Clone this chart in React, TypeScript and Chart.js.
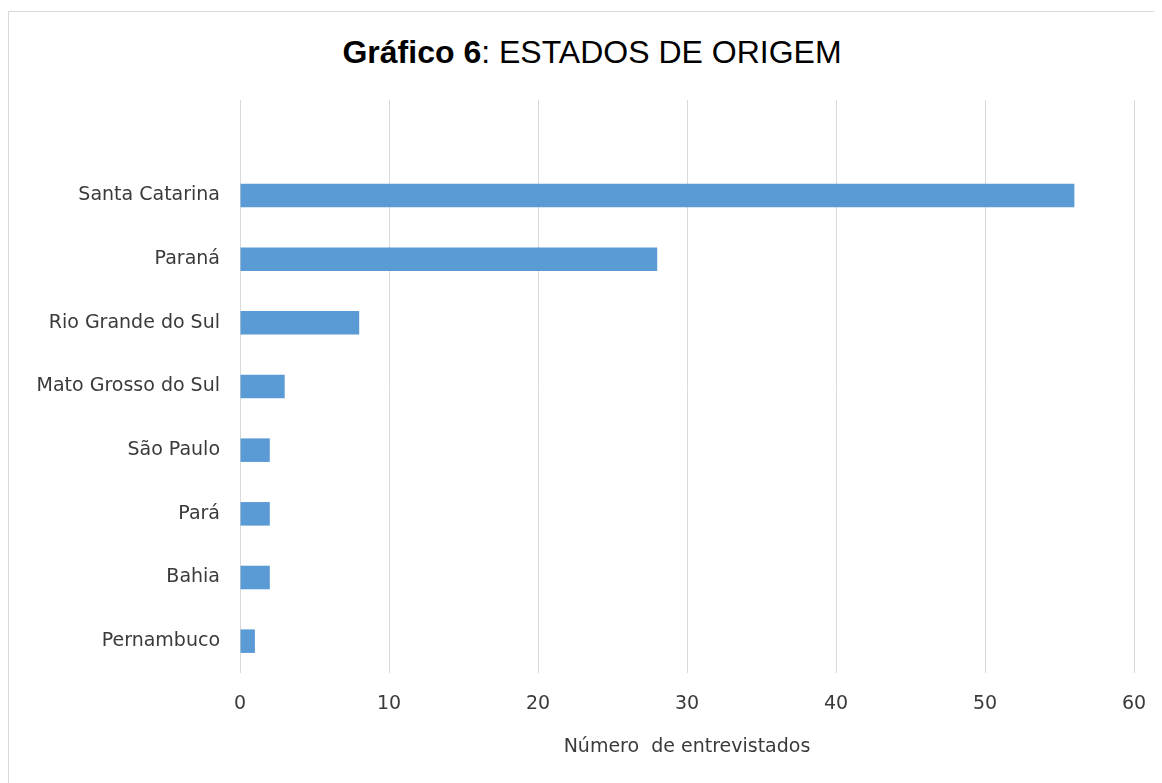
import React, { useEffect, useRef } from "react";
import { Chart, registerables } from "chart.js";

Chart.register(...registerables);

const categories: string[] = [
  "",
  "Santa Catarina",
  "Paraná",
  "Rio Grande do Sul",
  "Mato Grosso do Sul",
  "São Paulo",
  "Pará",
  "Bahia",
  "Pernambuco",
];
const values: (number | null)[] = [null, 56, 28, 8, 3, 2, 2, 2, 1];
const xMin = 0;
const xMax = 60;
const xStep = 10;
const axisTitle = "Número  de entrevistados";

const TICK_FONT = { family: "'DejaVu Sans', sans-serif", size: 19 };

export default function App() {
  const ref = useRef<HTMLCanvasElement | null>(null);

  useEffect(() => {
    const prevHtml = document.documentElement.style.overflow;
    document.documentElement.style.overflow = "hidden";
    if (!ref.current) return;
    const chart = new Chart(ref.current, {
      type: "bar",
      data: {
        labels: categories,
        datasets: [
          {
            label: "Entrevistados",
            data: values,
            backgroundColor: "#5B9BD5",
            borderWidth: 0,
            barPercentage: 0.37,
            categoryPercentage: 1,
          },
        ],
      },
      options: {
        indexAxis: "y",
        responsive: false,
        animation: false,
        layout: { padding: { top: 88, right: 39, bottom: 0, left: 0 } },
        plugins: {
          legend: { display: false },
          title: { display: false },
          tooltip: { enabled: false },
        },
        scales: {
          x: {
            min: xMin,
            max: xMax,
            ticks: {
              stepSize: xStep,
              color: "#3a3a3a",
              font: TICK_FONT,
              padding: 20,
            },
            grid: { color: "#d9d9d9", lineWidth: 1, drawTicks: false },
            border: { display: false },
            title: {
              display: true,
              text: axisTitle,
              color: "#3a3a3a",
              font: TICK_FONT,
              padding: { top: 0, bottom: 25 },
            },
            afterFit: (scale: any) => {
              scale.height = 110;
            },
          },
          y: {
            ticks: {
              color: "#3a3a3a",
              font: TICK_FONT,
              padding: 20,
            },
            grid: { display: false, drawTicks: false },
            border: { display: false },
            afterFit: (scale: any) => {
              scale.width = 231;
            },
          },
        },
      },
    });
    return () => {
      chart.destroy();
      document.documentElement.style.overflow = prevHtml;
    };
  }, []);

  return (
    <div
      style={{
        position: "relative",
        marginTop: 3,
        width: 1164,
        height: 772,
        borderTop: "1px solid #d9d9d9",
        borderLeft: "1px solid #d9d9d9",
        background: "#fff",
      }}
    >
      <div
        style={{
          position: "absolute",
          left: 0,
          top: 24,
          width: 1166,
          textAlign: "center",
          fontFamily: "'Liberation Sans', Arial, sans-serif",
          fontSize: 32,
          lineHeight: "32px",
          color: "#000",
        }}
      >
        <b>Gráfico 6</b>: ESTADOS DE ORIGEM
      </div>
      <canvas
        ref={ref}
        width={1164}
        height={771}
        style={{ position: "absolute", left: 0, top: 0, display: "block" }}
      />
    </div>
  );
}
